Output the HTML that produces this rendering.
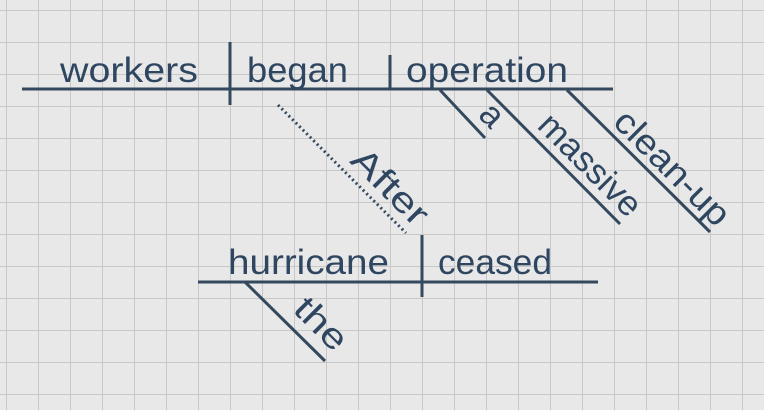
<!DOCTYPE html>
<html><head><style>
html,body{margin:0;padding:0;background:#e8e8e8;}
svg{display:block;}
text{font-family:"Liberation Sans",sans-serif;font-size:35px;fill:#2f4660;}
</style></head><body>
<svg width="764" height="410" viewBox="0 0 764 410" xmlns="http://www.w3.org/2000/svg">
<defs>
<pattern id="g" x="6" y="10" width="32" height="32" patternUnits="userSpaceOnUse">
<path d="M0 0 V32 M0 0 H32" stroke="#c8c8c8" stroke-width="2" fill="none"/>
</pattern>
</defs>
<rect width="764" height="410" fill="#e8e8e8"/>
<rect width="764" height="410" fill="url(#g)"/>
<g stroke="#34495e" stroke-width="3" fill="none">
<line x1="22" y1="89" x2="613" y2="89"/>
<line x1="230" y1="42" x2="230" y2="105"/>
<line x1="390" y1="55" x2="390" y2="89"/>
<line x1="440" y1="90" x2="485" y2="138"/>
<line x1="487" y1="90" x2="620" y2="224"/>
<line x1="567" y1="90" x2="710" y2="232"/>
<line x1="278" y1="105" x2="406" y2="233" stroke-dasharray="2 3"/>
<line x1="198" y1="282" x2="598" y2="282"/>
<line x1="422" y1="235" x2="422" y2="297"/>
<line x1="245" y1="282" x2="325" y2="361"/>
</g>
<text x="60" y="82" textLength="138" lengthAdjust="spacingAndGlyphs">workers</text>
<text x="247" y="82" textLength="101" lengthAdjust="spacingAndGlyphs">began</text>
<text x="406" y="82" textLength="162" lengthAdjust="spacingAndGlyphs">operation</text>
<text x="228" y="274" textLength="161" lengthAdjust="spacingAndGlyphs">hurricane</text>
<text x="438" y="274" textLength="114" lengthAdjust="spacingAndGlyphs">ceased</text>
<text transform="translate(484,123) rotate(45)" text-anchor="middle">a</text>
<text transform="translate(582,173) rotate(45)" text-anchor="middle" textLength="130" lengthAdjust="spacingAndGlyphs">massive</text>
<text transform="translate(664,176) rotate(45)" text-anchor="middle" textLength="148" lengthAdjust="spacingAndGlyphs">clean-up</text>
<text transform="translate(382,195) rotate(45)" text-anchor="middle" textLength="94" lengthAdjust="spacingAndGlyphs">After</text>
<text transform="translate(313,332) rotate(45)" text-anchor="middle" textLength="60" lengthAdjust="spacingAndGlyphs">the</text>
</svg>
</body></html>
